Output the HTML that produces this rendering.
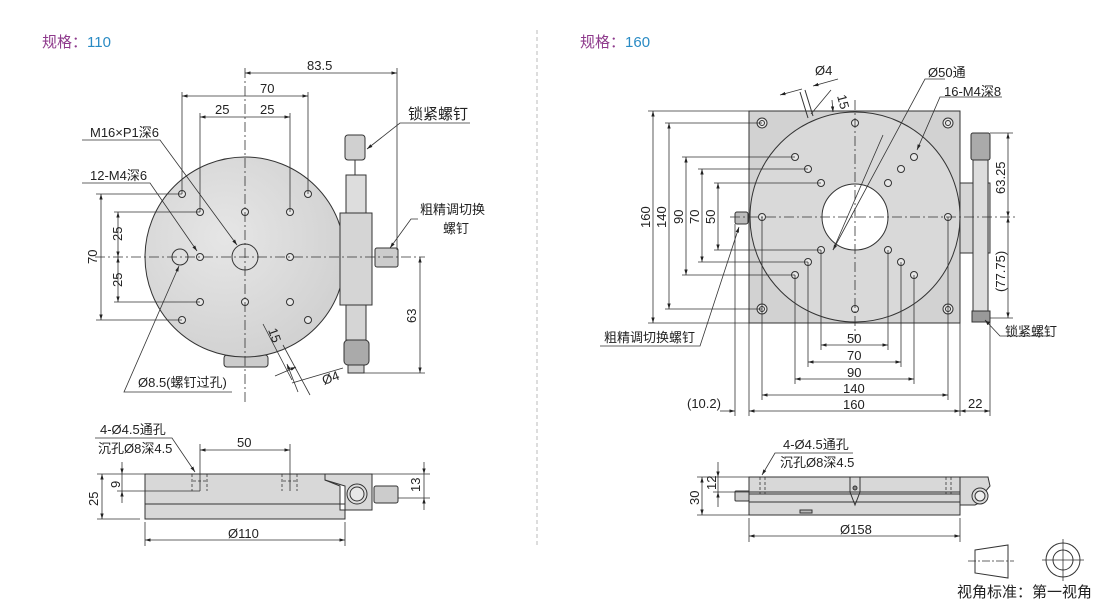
<!DOCTYPE html>
<html><head><meta charset="utf-8"><style>
html,body{margin:0;padding:0;background:#fff}
svg{display:block}
text{font-family:"Liberation Sans","Noto Sans CJK SC",sans-serif;fill:#222}
</style></head><body>
<svg width="1110" height="602" viewBox="0 0 1110 602" xmlns="http://www.w3.org/2000/svg">
<defs>
<marker id="a" viewBox="0 0 10 10" refX="10" refY="5" markerWidth="7" markerHeight="7" orient="auto-start-reverse"><path d="M0,2 L10,5 L0,8z" fill="#222"/></marker>
<radialGradient id="g" cx="0.4" cy="0.4" r="0.7"><stop offset="0" stop-color="#e6e6e6"/><stop offset="1" stop-color="#cfcfcf"/></radialGradient>
</defs>
<g font-size="15">
<text x="42" y="47" style="fill:#8e3a8c">规格：<tspan style="fill:#2a8bc4">110</tspan></text>
<text x="580" y="47" style="fill:#8e3a8c">规格：<tspan style="fill:#2a8bc4">160</tspan></text>
</g>
<line x1="537" y1="30" x2="537" y2="545" stroke="#bbb" stroke-dasharray="4,3"/>

<!-- LEFT TOP VIEW -->
<g stroke="#333" stroke-width="1" fill="none">
<rect x="224" y="355" width="44" height="12" rx="3" fill="#ccc"/>
<circle cx="245" cy="257" r="100" fill="url(#g)"/>
<rect x="340" y="213" width="32" height="92" fill="#d5d5d5"/>
<rect x="346" y="175" width="20" height="38" fill="#ddd"/>
<rect x="345" y="135" width="20" height="25" rx="3" fill="#d0d0d0"/>
<line x1="355" y1="160" x2="355" y2="175"/>
<rect x="375" y="248" width="23" height="19" rx="2" fill="#ccc"/>
<rect x="346" y="305" width="20" height="35" fill="#d5d5d5"/>
<rect x="344" y="340" width="25" height="25" rx="4" fill="#aaa"/>
<rect x="348" y="365" width="16" height="8" fill="#ccc"/>
<circle cx="245" cy="257" r="13" fill="#e0e0e0"/>
<circle cx="180" cy="257" r="8" fill="#e0e0e0"/>
</g>
<g fill="#e8e8e8" stroke="#333" stroke-width="1">
<circle cx="200" cy="212" r="3.5"/><circle cx="245" cy="212" r="3.5"/><circle cx="290" cy="212" r="3.5"/>
<circle cx="200" cy="257" r="3.5"/><circle cx="290" cy="257" r="3.5"/>
<circle cx="200" cy="302" r="3.5"/><circle cx="245" cy="302" r="3.5"/><circle cx="290" cy="302" r="3.5"/>
<circle cx="182" cy="194" r="3.5"/><circle cx="308" cy="194" r="3.5"/><circle cx="182" cy="320" r="3.5"/><circle cx="308" cy="320" r="3.5"/>
</g>
<g stroke="#333" stroke-width="0.8" fill="none">
<line x1="245" y1="68" x2="245" y2="402" stroke-dasharray="10,3,2,3"/>
<line x1="95" y1="257" x2="425" y2="257" stroke-dasharray="10,3,2,3"/>
<line x1="245" y1="73" x2="397" y2="73" marker-start="url(#a)" marker-end="url(#a)"/>
<line x1="397" y1="68" x2="397" y2="250"/>
<line x1="182" y1="92" x2="182" y2="194"/><line x1="308" y1="92" x2="308" y2="194"/>
<line x1="182" y1="96" x2="308" y2="96" marker-start="url(#a)" marker-end="url(#a)"/>
<line x1="200" y1="113" x2="200" y2="212"/><line x1="290" y1="113" x2="290" y2="212"/>
<line x1="200" y1="117" x2="290" y2="117" marker-start="url(#a)" marker-end="url(#a)"/>
<line x1="96" y1="194" x2="182" y2="194"/><line x1="96" y1="320" x2="182" y2="320"/>
<line x1="101" y1="194" x2="101" y2="320" marker-start="url(#a)" marker-end="url(#a)"/>
<line x1="114" y1="212" x2="200" y2="212"/><line x1="114" y1="302" x2="200" y2="302"/>
<line x1="118" y1="212" x2="118" y2="257" marker-start="url(#a)" marker-end="url(#a)"/>
<line x1="118" y1="257" x2="118" y2="302" marker-start="url(#a)" marker-end="url(#a)"/>
<line x1="364" y1="373" x2="425" y2="373"/>
<line x1="420" y1="257" x2="420" y2="373" marker-start="url(#a)" marker-end="url(#a)"/>
<polyline points="470,123 400,123 367,149" marker-end="url(#a)"/>
<polyline points="418,219 411,219 390,248" marker-end="url(#a)"/>
<polyline points="82,140 160,140 237,245" marker-end="url(#a)"/>
<polyline points="82,183 150,183 197,251" marker-end="url(#a)"/>
<polyline points="232,392 124,392 179,266" marker-end="url(#a)"/>
<line x1="263" y1="324" x2="292" y2="380"/><line x1="283" y1="345" x2="310" y2="395"/>
<line x1="275" y1="376" x2="296" y2="367" marker-end="url(#a)"/>
<line x1="292" y1="383" x2="343" y2="368"/>
<line x1="298" y1="392" x2="287" y2="364" marker-end="url(#a)" />
</g>
<g font-size="13">
<text x="307" y="70">83.5</text><text x="260" y="93">70</text>
<text x="215" y="114">25</text><text x="260" y="114">25</text>
<text x="408" y="119" font-size="15">锁紧螺钉</text>
<text x="420" y="214">粗精调切换</text><text x="443" y="233">螺钉</text>
<text x="90" y="137">M16×P1深6</text><text x="90" y="180">12-M4深6</text>
<text x="138" y="387">Ø8.5(螺钉过孔)</text>
<text transform="translate(97,264) rotate(-90)">70</text>
<text transform="translate(122,241) rotate(-90)">25</text>
<text transform="translate(122,287) rotate(-90)">25</text>
<text transform="translate(416,323) rotate(-90)">63</text>
<text transform="translate(268,330) rotate(70)">15</text>
<text transform="translate(324,385) rotate(-20)">Ø4</text>
</g>

<!-- LEFT SIDE VIEW -->
<g stroke="#333" stroke-width="1" fill="#d8d8d8">
<path d="M145,474 H325 V480 L340,486 V510 H345 V519 H145 Z"/>
<line x1="145" y1="504" x2="345" y2="504"/>
<path d="M325,474 H372 V510 H345 V486 L325,480 Z"/>
<circle cx="357" cy="494" r="10" fill="#ddd"/><circle cx="357" cy="494" r="7" fill="#e8e8e8"/>
<rect x="374" y="486" width="24" height="17" rx="2" fill="#ccc"/>
</g>
<g stroke="#333" stroke-width="0.8" fill="none">
<g stroke-dasharray="3,2"><path d="M192,474 V491 M207,474 V491 M282,474 V491 M297,474 V491 M193,481 H206 M283,481 H296"/></g>
<line x1="200" y1="444" x2="200" y2="491"/><line x1="290" y1="444" x2="290" y2="491"/>
<line x1="200" y1="450" x2="290" y2="450" marker-start="url(#a)" marker-end="url(#a)"/>
<line x1="97" y1="474" x2="145" y2="474"/><line x1="97" y1="519" x2="140" y2="519"/>
<line x1="102" y1="474" x2="102" y2="519" marker-start="url(#a)" marker-end="url(#a)"/>
<line x1="117" y1="491" x2="200" y2="491"/>
<line x1="122" y1="462" x2="122" y2="474" marker-end="url(#a)"/><line x1="122" y1="503" x2="122" y2="491" marker-end="url(#a)"/>
<line x1="122" y1="474" x2="122" y2="491"/>
<line x1="372" y1="474" x2="430" y2="474"/><line x1="398" y1="498" x2="430" y2="498"/>
<line x1="424" y1="462" x2="424" y2="474" marker-end="url(#a)"/><line x1="424" y1="510" x2="424" y2="498" marker-end="url(#a)"/><line x1="424" y1="474" x2="424" y2="498"/>
<line x1="145" y1="522" x2="145" y2="546"/><line x1="345" y1="522" x2="345" y2="546"/>
<line x1="145" y1="540" x2="345" y2="540" marker-start="url(#a)" marker-end="url(#a)"/>
<polyline points="95,438 172,438 195,472" marker-end="url(#a)"/>
</g>
<g font-size="13">
<text x="100" y="434">4-Ø4.5通孔</text><text x="98" y="453">沉孔Ø8深4.5</text>
<text x="237" y="447">50</text><text x="228" y="538">Ø110</text>
<text transform="translate(98,506) rotate(-90)">25</text>
<text transform="translate(120,488) rotate(-90)">9</text>
<text transform="translate(420,492) rotate(-90)">13</text>
</g>

<!-- RIGHT TOP VIEW -->
<g stroke="#333" stroke-width="1">
<rect x="749" y="111" width="211" height="212" fill="#d2d2d2"/>
<circle cx="855" cy="217" r="105" fill="#d9d9d9"/>
<circle cx="855" cy="217" r="33" fill="#fff"/>
<rect x="960" y="183" width="30" height="70" fill="#d5d5d5"/>
<rect x="973" y="160" width="15" height="160" fill="#ddd"/>
<rect x="971" y="133" width="19" height="27" rx="2" fill="#aaa"/>
<rect x="972" y="311" width="18" height="11" fill="#999"/>
<rect x="735" y="212" width="13" height="12" rx="2" fill="#bbb"/>
<line x1="800" y1="92" x2="808" y2="118" />
<line x1="805" y1="90" x2="813" y2="116"/>
</g>
<g fill="#e8e8e8" stroke="#333" stroke-width="1">
<circle cx="762" cy="123" r="5"/><circle cx="948" cy="123" r="5"/><circle cx="762" cy="309" r="5"/><circle cx="948" cy="309" r="5"/>
<circle cx="762" cy="123" r="2.5"/><circle cx="948" cy="123" r="2.5"/><circle cx="762" cy="309" r="2.5"/><circle cx="948" cy="309" r="2.5"/>
<circle cx="855" cy="123" r="3.5"/><circle cx="855" cy="309" r="3.5"/><circle cx="762" cy="217" r="3.5"/><circle cx="948" cy="217" r="3.5"/>
<circle cx="795" cy="157" r="3.5"/><circle cx="808" cy="169" r="3.5"/><circle cx="821" cy="183" r="3.5"/>
<circle cx="888" cy="183" r="3.5"/><circle cx="901" cy="169" r="3.5"/><circle cx="914" cy="157" r="3.5"/>
<circle cx="821" cy="250" r="3.5"/><circle cx="808" cy="262" r="3.5"/><circle cx="795" cy="275" r="3.5"/>
<circle cx="888" cy="250" r="3.5"/><circle cx="901" cy="262" r="3.5"/><circle cx="914" cy="275" r="3.5"/>
</g>
<g stroke="#333" stroke-width="0.8" fill="none">
<line x1="855" y1="100" x2="855" y2="340" stroke-dasharray="10,3,2,3"/>
<line x1="730" y1="217" x2="1015" y2="217" stroke-dasharray="10,3,2,3"/>
<line x1="648" y1="111" x2="749" y2="111"/><line x1="648" y1="323" x2="749" y2="323"/>
<line x1="653" y1="111" x2="653" y2="323" marker-start="url(#a)" marker-end="url(#a)"/>
<line x1="665" y1="123" x2="762" y2="123"/><line x1="665" y1="309" x2="762" y2="309"/>
<line x1="669" y1="123" x2="669" y2="309" marker-start="url(#a)" marker-end="url(#a)"/>
<line x1="682" y1="157" x2="795" y2="157"/><line x1="682" y1="275" x2="795" y2="275"/>
<line x1="686" y1="157" x2="686" y2="275" marker-start="url(#a)" marker-end="url(#a)"/>
<line x1="698" y1="169" x2="808" y2="169"/><line x1="698" y1="262" x2="808" y2="262"/>
<line x1="702" y1="169" x2="702" y2="262" marker-start="url(#a)" marker-end="url(#a)"/>
<line x1="714" y1="183" x2="821" y2="183"/><line x1="714" y1="250" x2="821" y2="250"/>
<line x1="718" y1="183" x2="718" y2="250" marker-start="url(#a)" marker-end="url(#a)"/>
<line x1="821" y1="250" x2="821" y2="350"/><line x1="888" y1="250" x2="888" y2="350"/>
<line x1="821" y1="345" x2="888" y2="345" marker-start="url(#a)" marker-end="url(#a)"/>
<line x1="808" y1="262" x2="808" y2="367"/><line x1="901" y1="262" x2="901" y2="367"/>
<line x1="808" y1="362" x2="901" y2="362" marker-start="url(#a)" marker-end="url(#a)"/>
<line x1="795" y1="275" x2="795" y2="384"/><line x1="914" y1="275" x2="914" y2="384"/>
<line x1="795" y1="379" x2="914" y2="379" marker-start="url(#a)" marker-end="url(#a)"/>
<line x1="762" y1="217" x2="762" y2="400"/><line x1="948" y1="217" x2="948" y2="400"/>
<line x1="762" y1="395" x2="948" y2="395" marker-start="url(#a)" marker-end="url(#a)"/>
<line x1="749" y1="323" x2="749" y2="416"/><line x1="960" y1="323" x2="960" y2="416"/>
<line x1="735" y1="224" x2="735" y2="416"/><line x1="990" y1="322" x2="990" y2="416"/>
<line x1="749" y1="411" x2="960" y2="411" marker-start="url(#a)" marker-end="url(#a)"/>
<line x1="720" y1="411" x2="735" y2="411" marker-end="url(#a)"/>
<line x1="960" y1="411" x2="990" y2="411" marker-start="url(#a)" marker-end="url(#a)"/>
<line x1="990" y1="133" x2="1013" y2="133"/><line x1="990" y1="318" x2="1013" y2="318"/>
<line x1="1008" y1="133" x2="1008" y2="217" marker-start="url(#a)" marker-end="url(#a)"/>
<line x1="1008" y1="217" x2="1008" y2="318" marker-start="url(#a)" marker-end="url(#a)"/>
<polyline points="945,79 925,79 833,250" marker-end="url(#a)"/>
<line x1="883" y1="135" x2="833" y2="250"/>
<polyline points="1002,97 940,97 917,150" marker-end="url(#a)"/>
<polyline points="600,346 700,346 739,227" marker-end="url(#a)"/>
<polyline points="1052,336 1000,336 985,320" marker-end="url(#a)"/>
<line x1="780" y1="95" x2="802" y2="89" marker-start="url(#a)"/><line x1="813" y1="86" x2="838" y2="79" marker-start="url(#a)"/>
<line x1="811" y1="114" x2="831" y2="90"/>
<line x1="832" y1="100" x2="833" y2="112" marker-end="url(#a)"/>
</g>
<g font-size="13">
<text x="815" y="75">Ø4</text><text transform="translate(837,96) rotate(75)">15</text>
<text x="928" y="77">Ø50通</text><text x="944" y="96">16-M4深8</text>
<text x="604" y="342">粗精调切换螺钉</text><text x="1005" y="336">锁紧螺钉</text>
<text x="847" y="343">50</text><text x="847" y="360">70</text><text x="847" y="377">90</text>
<text x="843" y="393">140</text><text x="843" y="409">160</text>
<text x="687" y="408">(10.2)</text><text x="968" y="408">22</text>
<text transform="translate(650,228) rotate(-90)">160</text>
<text transform="translate(666,228) rotate(-90)">140</text>
<text transform="translate(683,224) rotate(-90)">90</text>
<text transform="translate(699,224) rotate(-90)">70</text>
<text transform="translate(715,224) rotate(-90)">50</text>
<text transform="translate(1005,194) rotate(-90)">63.25</text>
<text transform="translate(1005,292) rotate(-90)">(77.75)</text>
</g>

<!-- RIGHT SIDE VIEW -->
<g stroke="#333" stroke-width="1" fill="#d8d8d8">
<rect x="749" y="477" width="211" height="38"/>
<line x1="749" y1="492" x2="960" y2="492"/><line x1="749" y1="494" x2="960" y2="494"/>
<line x1="749" y1="502" x2="960" y2="502"/>
<path d="M960,477 H988 L990,486 L985,492 V500 L975,505 H960 Z"/>
<circle cx="980" cy="496" r="8" fill="#ddd"/><circle cx="980" cy="496" r="5" fill="#eee"/>
<rect x="735" y="491" width="14" height="10" rx="1" fill="#ccc"/>
<path d="M850,477 V492 L855,505 L860,492 V477" fill="none"/>
<circle cx="855" cy="488" r="2" fill="#888"/>
<rect x="800" y="510" width="12" height="3" fill="#bbb"/>
</g>
<g stroke="#333" stroke-width="0.8" fill="none">
<g stroke-dasharray="3,2"><path d="M760,477 V494 M765,477 V494 M946,477 V494 M951,477 V494"/></g>
<line x1="697" y1="477" x2="749" y2="477"/><line x1="697" y1="515" x2="749" y2="515"/>
<line x1="702" y1="477" x2="702" y2="515" marker-start="url(#a)" marker-end="url(#a)"/>
<line x1="713" y1="492" x2="749" y2="492"/>
<line x1="718" y1="462" x2="718" y2="477" marker-end="url(#a)"/><line x1="718" y1="507" x2="718" y2="492" marker-end="url(#a)"/><line x1="718" y1="477" x2="718" y2="492"/>
<line x1="749" y1="518" x2="749" y2="542"/><line x1="960" y1="518" x2="960" y2="542"/>
<line x1="749" y1="536" x2="960" y2="536" marker-start="url(#a)" marker-end="url(#a)"/>
<polyline points="853,453 775,453 762,475" marker-end="url(#a)"/>
<path d="M975,550 L1008,545 V578 L975,573 Z" stroke-width="1"/>
<line x1="968" y1="561" x2="1014" y2="561" stroke-dasharray="8,2,2,2"/>
<circle cx="1063" cy="560" r="17" stroke-width="1"/><circle cx="1063" cy="560" r="10" stroke-width="1"/>
<line x1="1042" y1="560" x2="1084" y2="560"/><line x1="1063" y1="539" x2="1063" y2="581"/>
</g>
<g font-size="13">
<text x="783" y="449">4-Ø4.5通孔</text><text x="780" y="467">沉孔Ø8深4.5</text>
<text x="840" y="534">Ø158</text>
<text transform="translate(699,505) rotate(-90)">30</text>
<text transform="translate(716,490) rotate(-90)">12</text>
<text x="957" y="597" font-size="15">视角标准：第一视角</text>
</g>
</svg>
</body></html>
